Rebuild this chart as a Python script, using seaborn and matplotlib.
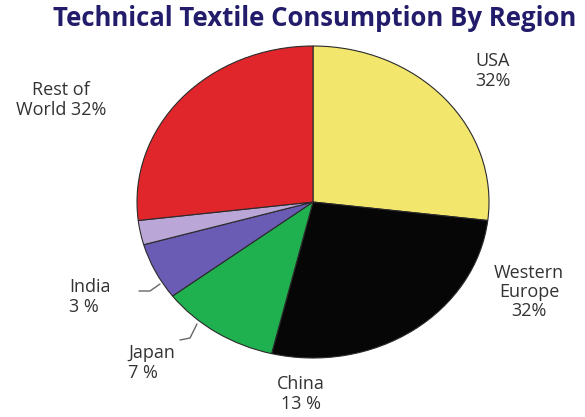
import matplotlib
matplotlib.use("Agg")
import matplotlib.pyplot as plt
import seaborn as sns

sns.set_theme(style="white")
plt.rcParams["font.family"] = ["Open Sans", "DejaVu Sans"]

# Regions and their shares, clockwise from twelve o'clock
regions = ["USA", "Western\nEurope", "China", "Japan", "India", "Rest of\nWorld"]
shares = [32, 32, 13, 7, 3, 32]
share_text = ["32%", "32%", "13 %", "7 %", "3 %", "32%"]
colors = ["#f3e66c", "#060606", "#1fb14f", "#6a5cb4", "#baa7d8", "#e0262a"]

W, H = 585, 417
fig = plt.figure(figsize=(W / 100, H / 100), dpi=100)
fig.patch.set_facecolor("white")

# Slightly elliptical pie: centre and radii in pixels
cx, cy, rx, ry = 313, 202, 176, 156
ax = fig.add_axes([(cx - rx) / W, 1 - (cy + ry) / H, 2 * rx / W, 2 * ry / H])
wedges, _ = ax.pie(
    shares,
    colors=colors,
    startangle=90,
    counterclock=False,
    radius=1,
    wedgeprops=dict(edgecolor="#2a2a2a", linewidth=0.8),
)
ax.set_aspect("auto")
ax.set_xlim(-1, 1)
ax.set_ylim(-1, 1)
ax.axis("off")

fig.text(315 / W, 1 - 18 / H, "Technical Textile Consumption By Region",
         ha="center", va="center", fontsize=18.5, fontweight="bold",
         color="#221c6b")

lab = dict(fontsize=13, color="#333333", linespacing=1.1)
fig.text(493 / W, 1 - 71 / H, f"{regions[0]}\n{share_text[0]}",
         ha="center", va="center", **lab)
fig.text(529 / W, 1 - 292 / H, f"{regions[1]}\n{share_text[1]}",
         ha="center", va="center", **lab)
fig.text(301 / W, 1 - 394 / H, f"{regions[2]}\n{share_text[2]}",
         ha="center", va="center", **lab)
fig.text(128 / W, 1 - 363 / H, f"{regions[3]}\n{share_text[3]}",
         ha="left", va="center", **lab)
fig.text(69 / W, 1 - 297 / H, f"{regions[4]}\n{share_text[4]}",
         ha="left", va="center", **lab)
fig.text(61 / W, 1 - 100 / H, "Rest of\nWorld " + share_text[5],
         ha="center", va="center", **lab)

# Leader lines for the two narrow slices
line = dict(color="#666666", lw=1.0, transform=fig.transFigure)
fig.add_artist(plt.Line2D([139 / W, 150 / W, 160 / W],
                          [1 - 291 / H, 1 - 291 / H, 1 - 284 / H], **line))
fig.add_artist(plt.Line2D([180 / W, 190 / W, 197 / W],
                          [1 - 340 / H, 1 - 338 / H, 1 - 324 / H], **line))

fig.savefig("out.png", dpi=100, facecolor="white")
